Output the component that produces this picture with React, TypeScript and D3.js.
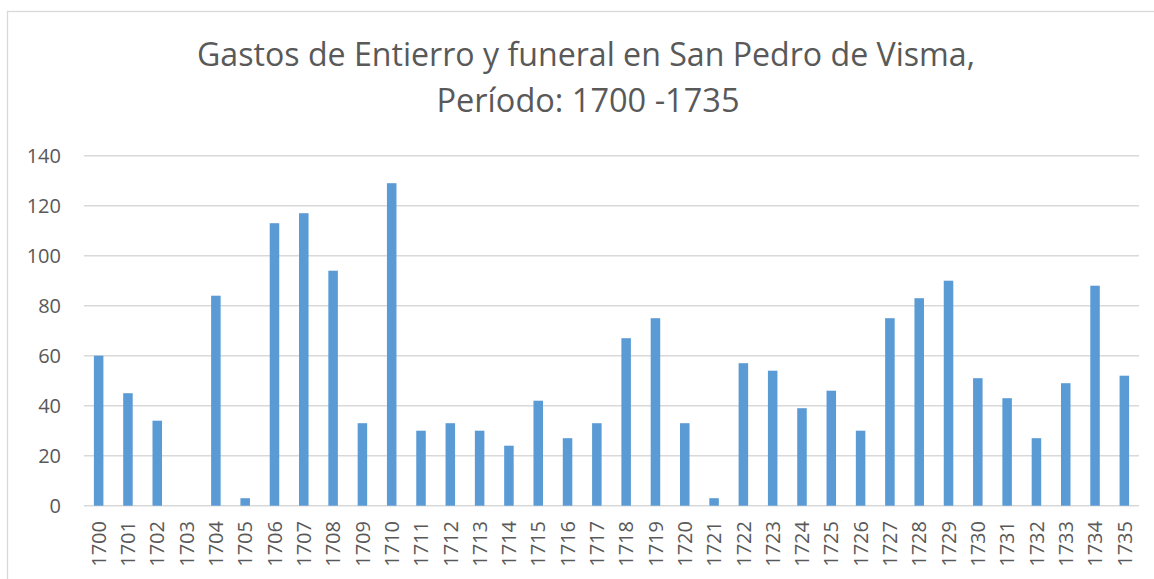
import React from "react";
import * as d3 from "d3";

const years: string[] = [
  "1700","1701","1702","1703","1704","1705","1706","1707","1708","1709",
  "1710","1711","1712","1713","1714","1715","1716","1717","1718","1719",
  "1720","1721","1722","1723","1724","1725","1726","1727","1728","1729",
  "1730","1731","1732","1733","1734","1735",
];
const gastos: number[] = [
  60, 45, 34, 0, 84, 3, 113, 117, 94, 33,
  129, 30, 33, 30, 24, 42, 27, 33, 67, 75,
  33, 3, 57, 54, 39, 46, 30, 75, 83, 90,
  51, 43, 27, 49, 88, 52,
];
const yTicks: number[] = [0, 20, 40, 60, 80, 100, 120, 140];
const titleLines: string[] = [
  "Gastos de Entierro y funeral en San Pedro de Visma,",
  "Período: 1700 -1735",
];

const W = 1154;
const H = 579;
const plotLeft = 84;
const plotRight = 1139;
const plotTop = 155.7;
const plotBottom = 505.7;
const textColor = "#595959";
const font = "'Open Sans', 'Liberation Sans', sans-serif";

export default function App() {
  const x = d3
    .scaleBand<string>()
    .domain(years)
    .range([plotLeft, plotRight])
    .paddingInner(0.675)
    .paddingOuter(0.3375);
  const y = d3.scaleLinear().domain([0, 140]).range([plotBottom, plotTop]);

  return (
    <svg
      width={W}
      height={H}
      style={{ position: "absolute", left: 0, top: 0, background: "#fff" }}
    >
      <rect x={0} y={0} width={W} height={H} fill="#ffffff" />
      <rect
        x={7.5}
        y={11.5}
        width={W + 20}
        height={H + 20}
        fill="none"
        stroke="#d9d9d9"
        strokeWidth={1.3}
      />
      <text
        x={586}
        y={66}
        textAnchor="middle"
        fontFamily={font}
        fontSize={32}
        fill={textColor}
        textLength={778}
        lengthAdjust="spacingAndGlyphs"
      >
        {titleLines[0]}
      </text>
      <text
        x={588}
        y={112}
        textAnchor="middle"
        fontFamily={font}
        fontSize={32}
        fill={textColor}
        textLength={303}
        lengthAdjust="spacingAndGlyphs"
      >
        {titleLines[1]}
      </text>
      {yTicks.map((t) => (
        <g key={t}>
          <line
            x1={plotLeft}
            x2={plotRight}
            y1={y(t)}
            y2={y(t)}
            stroke="#d9d9d9"
            strokeWidth={1.4}
          />
          <text
            x={61}
            y={y(t)}
            dy="0.36em"
            textAnchor="end"
            fontFamily={font}
            fontSize={20}
            fill={textColor}
          >
            {t}
          </text>
        </g>
      ))}
      {years.map((yr, i) => (
        <rect
          key={yr}
          x={x(yr)}
          y={y(gastos[i])}
          width={x.bandwidth()}
          height={plotBottom - y(gastos[i])}
          fill="#5b9bd5"
        />
      ))}
      {years.map((yr) => {
        const cx = (x(yr) as number) + x.bandwidth() / 2;
        return (
          <text
            key={"l" + yr}
            transform={`translate(${cx},521) rotate(-90)`}
            dy="0.36em"
            textAnchor="end"
            fontFamily={font}
            fontSize={20}
            fill={textColor}
          >
            {yr}
          </text>
        );
      })}
    </svg>
  );
}
